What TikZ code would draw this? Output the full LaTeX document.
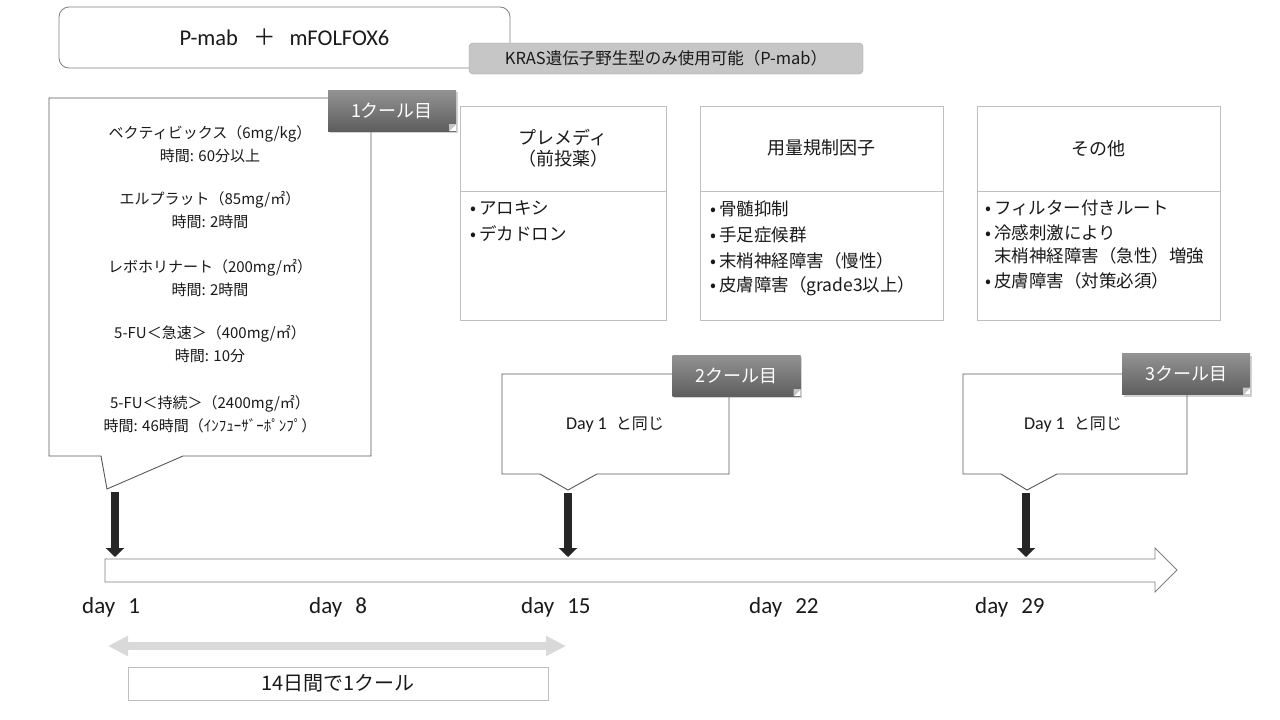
\documentclass[tikz,border=0pt]{standalone}
\usepackage{fontspec}
\setmainfont{Noto Sans CJK JP}
\newfontfamily\lat{Carlito}
\usetikzlibrary{arrows.meta,shadows}
\definecolor{cdark}{HTML}{595959}
\definecolor{cbox}{HTML}{BFBFBF}
\definecolor{cline}{HTML}{808080}
\definecolor{carrow}{HTML}{262626}
\definecolor{clight}{HTML}{D9D9D9}
\definecolor{ckras}{HTML}{C6C6C6}
\definecolor{ctagtop}{HTML}{939393}
\definecolor{ctagbot}{HTML}{5E5E5E}
\definecolor{ctxt}{HTML}{1A1A1A}
\begin{document}
\begin{tikzpicture}[x=1pt,y=-1pt,
  every node/.style={inner sep=0pt, text=ctxt},
  drug/.style={align=center, font=\fontsize{15}{23}\selectfont},
  hdr/.style={align=center, font=\fontsize{18}{21}\selectfont},
  bul/.style={anchor=west, font=\fontsize{17.5}{21}\selectfont},
  callout/.style={draw=cdark, line width=0.9pt, fill=white},
  tagbox/.style={minimum width=128pt, minimum height=41pt, top color=ctagtop, bottom color=ctagbot, text=white, font=\fontsize{18}{20}\selectfont, drop shadow={shadow xshift=1.5pt, shadow yshift=-2pt, opacity=0.35}},
  infobox/.style={draw=cbox, line width=0.8pt},
  dayarrow/.style={draw=carrow, line width=8pt, -{Triangle[width=18pt,length=9pt]}},
  daylab/.style={anchor=west, font=\lat\fontsize{23}{26}\selectfont},
  sametxt/.style={font=\fontsize{16}{20}\selectfont},
  fold/.style={fill=white},
  foldin/.style={fill=gray!45}
]
\useasboundingbox (0,0) rectangle (1280,720);
\fill[white] (0,0) rectangle (1280,720);

% title
\node (title) [draw=cline, line width=0.8pt, rounded corners=10pt, minimum width=451pt, minimum height=61pt] at (284.5,37.5)
  {\fontsize{22.5}{24}\selectfont{\lat P-mab}\hspace{15pt}＋\hspace{14pt}{\lat mFOLFOX6}};
\node (kras) [draw=gray!75, fill=ckras, rounded corners=4pt, minimum width=394pt, minimum height=31pt] at (666,58.5)
  {\fontsize{16.5}{18}\selectfont KRAS遺伝子野生型のみ使用可能（P-mab）};

% callout 1
\draw[callout] (49,98) -- (371,98) -- (371,456) -- (183,456) -- (107,489) -- (101,456) -- (49,456) -- cycle;
\node (d1) [drug] at (210,144.5) {ベクティビックス（6mg/kg）\\時間: 60分以上};
\node (d2) [drug] at (210,210) {エルプラット（85mg/㎡）\\時間: 2時間};
\node (d3) [drug] at (210,278.5) {レボホリナート（200mg/㎡）\\時間: 2時間};
\node (d4) [drug] at (210,344) {5-FU＜急速＞（400mg/㎡）\\時間: 10分};
\node (d5) [drug] at (210,414) {5-FU＜持続＞（2400mg/㎡）\\時間: 46時間（ｲﾝﾌｭｰｻﾞｰﾎﾟﾝﾌﾟ）};
\node (t1) [tagbox] at (392,110.5) {1クール目};
\fill[fold] ([xshift=-7pt]t1.south east) -- (t1.south east) -- ([yshift=7pt]t1.south east) -- cycle;
\fill[foldin] ([xshift=-7pt]t1.south east) -- ([xshift=-7pt,yshift=7pt]t1.south east) -- ([yshift=7pt]t1.south east) -- cycle;

% info boxes
\node (b1) [infobox, minimum width=206pt, minimum height=214pt] at (563,213) {};
\draw[infobox] (b1.west |- 0,191) -- (b1.east |- 0,191);
\node (h1) [hdr] at (563,148) {プレメディ\\（前投薬）};
\node (b1a) [bul] at (470,208) {•\,アロキシ};
\node (b1b) [bul] at (470,234) {•\,デカドロン};

\node (b2) [infobox, minimum width=243pt, minimum height=214pt] at (821.5,213) {};
\draw[infobox] (b2.west |- 0,191) -- (b2.east |- 0,191);
\node (h2) [hdr] at (821.5,148) {用量規制因子};
\node (b2a) [bul] at (710,209) {•\,骨髄抑制};
\node (b2b) [bul] at (710,235) {•\,手足症候群};
\node (b2c) [bul] at (710,261) {•\,末梢神経障害（慢性）};
\node (b2d) [bul] at (710,286) {•\,皮膚障害（grade3以上）};

\node (b3) [infobox, minimum width=243pt, minimum height=214pt] at (1098.5,213) {};
\draw[infobox] (b3.west |- 0,191) -- (b3.east |- 0,191);
\node (h3) [hdr] at (1098.5,149) {その他};
\node (b3a) [bul] at (985,208) {•\,フィルター付きルート};
\node (b3b) [bul] at (985,233) {•\,冷感刺激により};
\node (b3c) [bul] at (985,256) {\hphantom{•\,}末梢神経障害（急性）増強};
\node (b3d) [bul] at (985,281) {•\,皮膚障害（対策必須）};

% callout 2
\draw[callout] (502,374) -- (729,374) -- (729,474) -- (597,474) -- (568,490) -- (540,474) -- (502,474) -- cycle;
\node (s2) [sametxt] at (615,425) {{\lat\fontsize{18}{20}\selectfont Day 1}\hspace{9pt}と同じ};
\node (t2) [tagbox] at (736.5,375.5) {2クール目};
\fill[fold] ([xshift=-7pt]t2.south east) -- (t2.south east) -- ([yshift=7pt]t2.south east) -- cycle;
\fill[foldin] ([xshift=-7pt]t2.south east) -- ([xshift=-7pt,yshift=7pt]t2.south east) -- ([yshift=7pt]t2.south east) -- cycle;

% callout 3
\draw[callout] (963,374) -- (1187,374) -- (1187,474) -- (1057,474) -- (1027,490) -- (1001,474) -- (963,474) -- cycle;
\node (s3) [sametxt] at (1073,425) {{\lat\fontsize{18}{20}\selectfont Day 1}\hspace{9pt}と同じ};
\node (t3) [tagbox] at (1186,374) {3クール目};
\fill[fold] ([xshift=-7pt]t3.south east) -- (t3.south east) -- ([yshift=7pt]t3.south east) -- cycle;
\fill[foldin] ([xshift=-7pt]t3.south east) -- ([xshift=-7pt,yshift=7pt]t3.south east) -- ([yshift=7pt]t3.south east) -- cycle;

% timeline
\draw[draw=cline, line width=0.9pt, fill=white] (105,559) -- (1155,559) -- (1155,548) -- (1177,570) -- (1155,592) -- (1155,582) -- (105,582) -- cycle;

% day arrows
\coordinate (a1s) at (115,492); \coordinate (a1e) at (115,557);
\coordinate (a2s) at (568,493); \coordinate (a2e) at (568,557);
\coordinate (a3s) at (1026,493); \coordinate (a3e) at (1026,557);
\draw[dayarrow] (a1s) -- (a1e);
\draw[dayarrow] (a2s) -- (a2e);
\draw[dayarrow] (a3s) -- (a3e);

% day labels
\node (l1) [daylab] at (82,607) {day\hspace{13pt}1};
\node (l8) [daylab] at (309,607) {day\hspace{13pt}8};
\node (l15) [daylab] at (521,607) {day\hspace{13pt}15};
\node (l22) [daylab] at (749,607) {day\hspace{13pt}22};
\node (l29) [daylab] at (975,607) {day\hspace{13pt}29};

% cycle span
\coordinate (sp1) at (108,646);
\coordinate (sp2) at (566,646);
\draw[clight, line width=8pt, {Triangle[width=19pt,length=20pt]}-{Triangle[width=19pt,length=20pt]}] (sp1) -- (sp2);
\node (cyc) [draw=cbox, line width=0.8pt, minimum width=420pt, minimum height=33pt] at (338,683.5)
  {\fontsize{20}{22}\selectfont 14日間で1クール};
\end{tikzpicture}
\end{document}
